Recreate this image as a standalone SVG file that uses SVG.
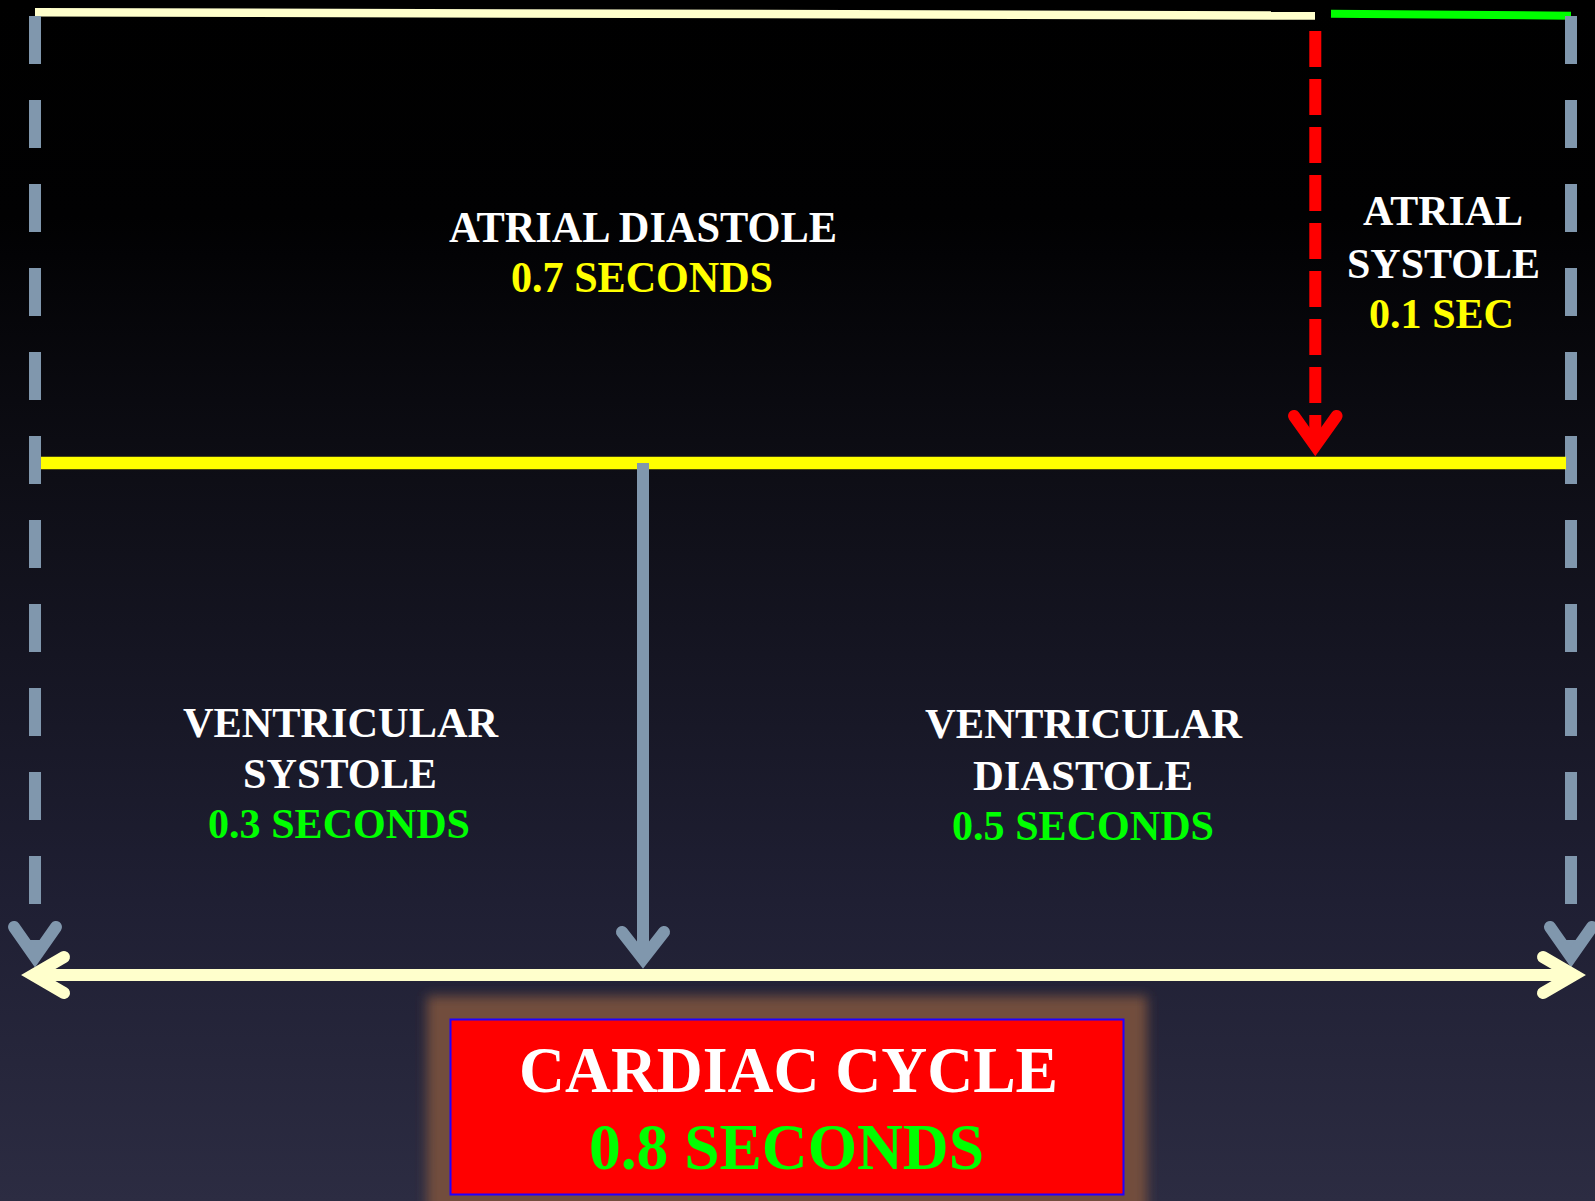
<svg xmlns="http://www.w3.org/2000/svg" width="1595" height="1201" viewBox="0 0 1595 1201">
  <defs>
    <linearGradient id="bg" x1="0" y1="0" x2="0" y2="1">
      <stop offset="0" stop-color="#000000"/>
      <stop offset="0.18" stop-color="#010102"/>
      <stop offset="0.4" stop-color="#0e0e16"/>
      <stop offset="0.75" stop-color="#1f1f33"/>
      <stop offset="1" stop-color="#2c2c42"/>
    </linearGradient>
    <filter id="glow" x="-20%" y="-40%" width="140%" height="180%">
      <feGaussianBlur stdDeviation="6"/>
    </filter>
    <style>
      .t { font-family: "Liberation Serif", "Times New Roman", serif; font-weight: bold; text-anchor: middle; }
      .w { fill: #ffffff; }
      .y { fill: #ffff00; }
      .g { fill: #00ff00; }
      .gray { stroke: #8097ad; stroke-width: 12; fill: none; }
      .dash { stroke-dasharray: 48 36; }
      .head { stroke-linecap: round; stroke-linejoin: miter; fill: none; }
    </style>
  </defs>
  <rect x="0" y="0" width="1595" height="1201" fill="url(#bg)"/>

  <g id="connectors">
    <!-- top timeline -->
    <line x1="35" y1="12.3" x2="1315" y2="15.5" stroke="#ffffcc" stroke-width="8.5"/>
    <line x1="1331" y1="13.7" x2="1571" y2="15.7" stroke="#00ff00" stroke-width="8"/>
    <!-- left dashed gray arrow -->
    <line class="gray dash" x1="35" y1="16" x2="35" y2="957"/>
    <polyline class="gray head" points="14,927 35,957 56,927"/>
    <!-- right dashed gray arrow -->
    <line class="gray dash" x1="1571" y1="16" x2="1571" y2="957"/>
    <polyline class="gray head" points="1550,927 1571,957 1592,927"/>
    <!-- red dashed arrow -->
    <line x1="1315.3" y1="31" x2="1315.3" y2="446" stroke="#ff0000" stroke-width="12" stroke-dasharray="36 12"/>
    <polyline class="head" points="1294,416 1315.3,446 1336.6,416" stroke="#ff0000" stroke-width="12"/>
    <!-- yellow divider -->
    <line x1="41" y1="463" x2="1566" y2="463" stroke="#ffff00" stroke-width="12.5"/>
    <!-- middle gray arrow -->
    <line class="gray" x1="643" y1="463" x2="643" y2="959"/>
    <polyline class="gray head" points="622,932 643,959 664,932"/>
    <!-- bottom double arrow -->
    <line x1="33" y1="975" x2="1574" y2="975" stroke="#ffffcc" stroke-width="12"/>
    <polyline class="head" points="64,957 33,975 64,993" stroke="#ffffcc" stroke-width="12"/>
    <polyline class="head" points="1543,957 1574,975 1543,993" stroke="#ffffcc" stroke-width="12"/>
  </g>

  <g id="atrial-diastole">
    <text class="t w" x="643" y="242" font-size="44" textLength="388" lengthAdjust="spacingAndGlyphs">ATRIAL DIASTOLE</text>
    <text class="t y" x="642" y="292" font-size="44" textLength="262" lengthAdjust="spacingAndGlyphs">0.7 SECONDS</text>
  </g>

  <g id="atrial-systole">
    <text class="t w" x="1443" y="225" font-size="43" textLength="160" lengthAdjust="spacingAndGlyphs">ATRIAL</text>
    <text class="t w" x="1443.5" y="278" font-size="43" textLength="193" lengthAdjust="spacingAndGlyphs">SYSTOLE</text>
    <text class="t y" x="1441.5" y="328" font-size="43" textLength="145" lengthAdjust="spacingAndGlyphs">0.1 SEC</text>
  </g>

  <g id="ventricular-systole">
    <text class="t w" x="340.5" y="737" font-size="43" textLength="315" lengthAdjust="spacingAndGlyphs">VENTRICULAR</text>
    <text class="t w" x="340" y="788" font-size="43" textLength="194" lengthAdjust="spacingAndGlyphs">SYSTOLE</text>
    <text class="t g" x="339" y="838" font-size="43" textLength="262" lengthAdjust="spacingAndGlyphs">0.3 SECONDS</text>
  </g>

  <g id="ventricular-diastole">
    <text class="t w" x="1083.5" y="738" font-size="43" textLength="317" lengthAdjust="spacingAndGlyphs">VENTRICULAR</text>
    <text class="t w" x="1083" y="790" font-size="43" textLength="220" lengthAdjust="spacingAndGlyphs">DIASTOLE</text>
    <text class="t g" x="1083" y="840" font-size="43" textLength="262" lengthAdjust="spacingAndGlyphs">0.5 SECONDS</text>
  </g>

  <g id="cardiac-cycle">
    <rect x="427" y="996" width="720" height="222" fill="#724e3c" filter="url(#glow)"/>
    <rect x="450.5" y="1019.5" width="673" height="175" fill="#ff0000" stroke="#2000ff" stroke-width="2"/>
    <text class="t w" x="788.5" y="1092" font-size="66" textLength="539" lengthAdjust="spacingAndGlyphs">CARDIAC CYCLE</text>
    <text class="t g" x="786.5" y="1169" font-size="66" textLength="395" lengthAdjust="spacingAndGlyphs">0.8 SECONDS</text>
  </g>
</svg>
